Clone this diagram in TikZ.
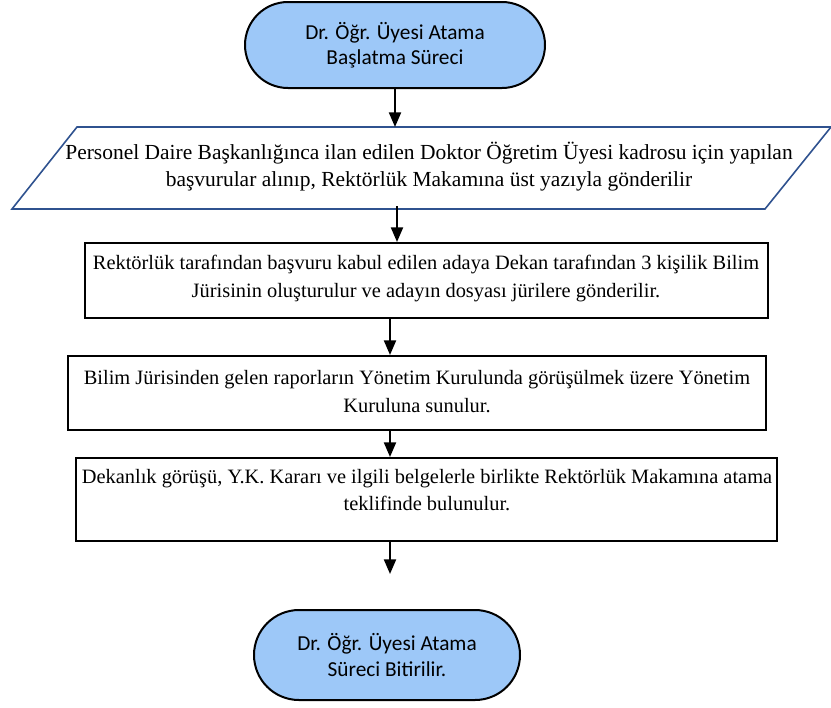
\documentclass[tikz,border=0pt]{standalone}
\usepackage{fontspec}
\setmainfont{Liberation Serif}
\newfontfamily\termfont{Carlito}
\usetikzlibrary{arrows.meta,shapes.misc}
\definecolor{termblue}{HTML}{9DC8F8}
\definecolor{parablue}{HTML}{2F528F}
\begin{document}
\begin{tikzpicture}[x=0.75pt,y=-0.75pt,
  term/.style={rounded rectangle, draw=black, line width=1.5pt, fill=termblue,
    font=\termfont\fontsize{16}{19}\selectfont, align=center, inner sep=0pt},
  procbox/.style={rectangle, draw=black, line width=1.5pt, inner sep=0pt},
  txt/.style={font=\fontsize{15.3}{20.4}\selectfont, align=center, inner sep=0pt},
  ptxt/.style={font=\fontsize{16.1}{20.4}\selectfont, align=center, inner sep=0pt},
  arr/.style={line width=1.6pt, -{Triangle[length=11pt,width=9pt]}}]
\useasboundingbox (0,0) rectangle (831,707);
% start terminal
\node[term, minimum width=300*0.75pt, minimum height=86*0.75pt] (t1) at (395,45)
  {Dr. Öğr. Üyesi Atama\\Başlatma Süreci};
% parallelogram
\draw[parablue, line width=1.2pt] (77,127) -- (831,127) -- (765,209) -- (12,209) -- cycle;
\node[ptxt] (p) at (429,166.5) {Personel Daire Başkanlığınca ilan edilen Doktor Öğretim Üyesi kadrosu için yapılan\\başvurular alınıp, Rektörlük Makamına üst yazıyla gönderilir};
\coordinate (ptop) at (395,127);
\coordinate (pbot) at (397,206);
% boxes
\node[procbox, minimum width=683*0.75pt, minimum height=75*0.75pt] (b2) at (426.5,280.5) {};
\node[txt] (b2t) at (426,278.5) {Rektörlük tarafından başvuru kabul edilen adaya Dekan tarafından 3 kişilik Bilim\\Jürisinin oluşturulur ve adayın dosyası jürilere gönderilir.};
\node[procbox, minimum width=698*0.75pt, minimum height=74*0.75pt] (b3) at (417,393) {};
\node[txt] (b3t) at (417,391.5) {Bilim Jürisinden gelen raporların Yönetim Kurulunda görüşülmek üzere Yönetim\\Kuruluna sunulur.};
\node[procbox, minimum width=701*0.75pt, minimum height=83*0.75pt] (b4) at (426.5,499.5) {};
\node[txt] (b4t) at (427,490) {Dekanlık görüşü, Y.K. Kararı ve ilgili belgelerle birlikte Rektörlük Makamına atama\\teklifinde bulunulur.};
% end terminal
\node[term, minimum width=266*0.75pt, minimum height=90*0.75pt] (t2) at (387,655)
  {Dr. Öğr. Üyesi Atama\\Süreci Bitirilir.};
% arrows
\coordinate (ax) at (390,0);
\coordinate (e) at (390,574);
\draw[arr] (t1.south) -- (ptop);
\draw[arr] (pbot) -- (pbot |- b2.north);
\draw[arr] (ax |- b2.south) -- (ax |- b3.north);
\draw[arr] (ax |- b3.south) -- (ax |- b4.north);
\draw[arr] (ax |- b4.south) -- (e);
\end{tikzpicture}
\end{document}
